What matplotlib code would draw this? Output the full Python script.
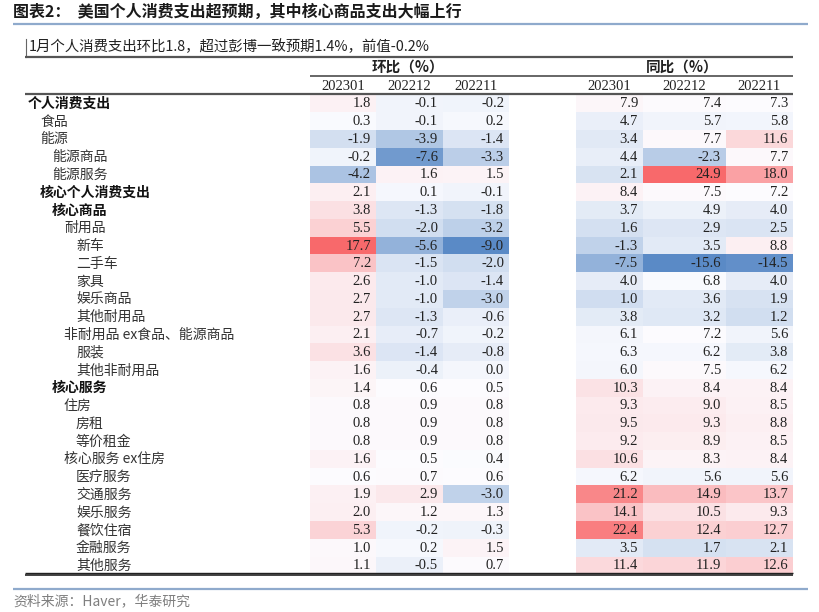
import numpy as np
import matplotlib
matplotlib.use("Agg")
import matplotlib.pyplot as plt
from matplotlib.colors import LinearSegmentedColormap, TwoSlopeNorm

plt.rcParams['font.family'] = ['Noto Sans CJK SC', 'DejaVu Sans']

title = "图表2：  美国个人消费支出超预期，其中核心商品支出大幅上行"
subtitle = "1月个人消费支出环比1.8，超过彭博一致预期1.4%，前值-0.2%"
source = "资料来源：Haver，华泰研究"
group_labels = ["环比（%）", "同比（%）"]
periods = ["202301", "202212", "202211"]

categories = ["个人消费支出", "食品", "能源", "能源商品", "能源服务",
              "核心个人消费支出", "核心商品", "耐用品", "新车", "二手车",
              "家具", "娱乐商品", "其他耐用品", "非耐用品 ex食品、能源商品",
              "服装", "其他非耐用品", "核心服务", "住房", "房租", "等价租金",
              "核心服务 ex住房", "医疗服务", "交通服务", "娱乐服务", "餐饮住宿",
              "金融服务", "其他服务"]
levels = [0, 1, 1, 2, 2, 1, 2, 3, 4, 4, 4, 4, 4, 3, 4, 4, 2, 3, 4, 4, 3, 4, 4, 4, 4, 4, 4]
bold_rows = [0, 5, 6, 16]

mom_202301 = [1.8, 0.3, -1.9, -0.2, -4.2, 2.1, 3.8, 5.5, 17.7, 7.2, 2.6, 2.7, 2.7, 2.1,
              3.6, 1.6, 1.4, 0.8, 0.8, 0.8, 1.6, 0.6, 1.9, 2.0, 5.3, 1.0, 1.1]
mom_202212 = [-0.1, -0.1, -3.9, -7.6, 1.6, 0.1, -1.3, -2.0, -5.6, -1.5, -1.0, -1.0, -1.3, -0.7,
              -1.4, -0.4, 0.6, 0.9, 0.9, 0.9, 0.5, 0.7, 2.9, 1.2, -0.2, 0.2, -0.5]
mom_202211 = [-0.2, 0.2, -1.4, -3.3, 1.5, -0.1, -1.8, -3.2, -9.0, -2.0, -1.4, -3.0, -0.6, -0.2,
              -0.8, 0.0, 0.5, 0.8, 0.8, 0.8, 0.4, 0.6, -3.0, 1.3, -0.3, 1.5, 0.7]
yoy_202301 = [7.9, 4.7, 3.4, 4.4, 2.1, 8.4, 3.7, 1.6, -1.3, -7.5, 4.0, 1.0, 3.8, 6.1,
              6.3, 6.0, 10.3, 9.3, 9.5, 9.2, 10.6, 6.2, 21.2, 14.1, 22.4, 3.5, 11.4]
yoy_202212 = [7.4, 5.7, 7.7, -2.3, 24.9, 7.5, 4.9, 2.9, 3.5, -15.6, 6.8, 3.6, 3.2, 7.2,
              6.2, 7.5, 8.4, 9.0, 9.3, 8.9, 8.3, 5.6, 14.9, 10.5, 12.4, 1.7, 11.9]
yoy_202211 = [7.3, 5.8, 11.6, 7.7, 18.0, 7.2, 4.0, 2.5, 8.8, -14.5, 4.0, 1.9, 1.2, 5.6,
              3.8, 6.2, 8.4, 8.5, 8.8, 8.5, 8.4, 5.6, 13.7, 9.3, 12.7, 2.1, 12.6]

W, H = 819, 612
fig = plt.figure(figsize=(W / 100, H / 100), dpi=100)
ax = fig.add_axes([0, 0, 1, 1])
ax.set_xlim(0, W)
ax.set_ylim(H, 0)
ax.axis('off')

cmap = LinearSegmentedColormap.from_list("bwr_excel", ["#5A8AC6", "#FCFCFF", "#F8696B"])

n = len(categories)
row_top = 94.5
row_h = 17.77
y_edges = row_top + np.arange(n + 1) * row_h
y_cent = row_top + (np.arange(n) + 0.5) * row_h

blocks = [
    (np.array([mom_202301, mom_202212, mom_202211]).T, [310, 376, 443, 509]),
    (np.array([yoy_202301, yoy_202212, yoy_202211]).T, [576, 643, 726, 793]),
]

num_font = dict(family=['Liberation Serif'], fontsize=10.5, color='#222222')
for gi, (vals, xe) in enumerate(blocks):
    norm = TwoSlopeNorm(vmin=vals.min(), vcenter=np.median(vals), vmax=vals.max())
    ax.pcolormesh(np.array(xe), y_edges, vals, cmap=cmap, norm=norm,
                  edgecolors='none', shading='flat')
    for j in range(3):
        right = xe[j + 1] - 5
        for i in range(n):
            ax.text(right, y_cent[i] + 0.5, f"{vals[i, j]:.1f}", ha='right', va='center', **num_font)
        ax.text((xe[0 + j] + xe[j + 1]) / 2, 86, periods[j], ha='center', va='center', **num_font)
    ax.text((xe[0] + xe[-1]) / 2 - 2, 67, group_labels[gi], ha='center', va='center',
            fontsize=10.5, fontweight='bold', color='#222222')

# row labels
for i, (c, lv) in enumerate(zip(categories, levels)):
    bold = i in bold_rows
    ax.text(28 + 12 * lv, y_cent[i] + 0.5, c, ha='left', va='center', fontsize=10,
            fontweight='bold' if bold else 'normal',
            color='#111111' if bold else '#333333')

# title and lines
ax.text(13, 12, title, ha='left', va='center', fontsize=11.5, fontweight='bold', color='#1a1a1a')
ax.plot([13, 808], [23.5, 23.5], color='#8FAACC', lw=1.6, solid_capstyle='butt')
ax.text(29, 47, subtitle, ha='left', va='center', fontsize=10.4, color='#222222')
ax.plot([25.5, 25.5], [39, 57], color='#666666', lw=0.8)
ax.plot([25, 793], [57, 57], color='#555555', lw=1.6, solid_capstyle='butt')
ax.plot([310, 793], [76, 76], color='#666666', lw=1.4, solid_capstyle='butt')
ax.plot([25, 793], [94, 94], color='#555555', lw=1.6, solid_capstyle='butt')
ax.plot([25, 793], [572.5, 572.5], color='#222222', lw=1.0, solid_capstyle='butt')
ax.plot([25, 793], [575, 575], color='#222222', lw=1.2, solid_capstyle='butt')
ax.plot([13, 808], [588.5, 588.5], color='#8FAACC', lw=1.6, solid_capstyle='butt')
ax.text(13, 601, source, ha='left', va='center', fontsize=10, color='#7f7f7f')

fig.savefig("out.png", dpi=100)
